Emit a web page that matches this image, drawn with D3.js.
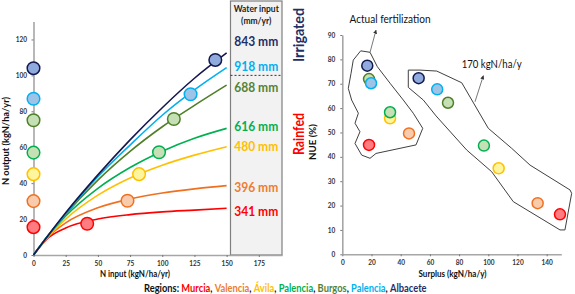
<!DOCTYPE html>
<html><head><meta charset="utf-8">
<script src="https://cdn.jsdelivr.net/npm/d3@7"></script>
<style>body{margin:0;background:#fff} svg{display:block;font-family:Lato,"DejaVu Sans",sans-serif}</style>
</head><body><svg id="c" width="575" height="294"></svg>
<script>
// ---------- data ----------
const regions = ["Murcia","Valencia","Ávila","Palencia","Burgos","Palencia","Albacete"];
const waterInput = ["341 mm","396 mm","480 mm","616 mm","688 mm","918 mm","843 mm"];
const curveX = [0,10,25,50,75,100,125,150];
const curveMurcia   = [0,8.6,15,20,22.5,24,25,26];
const curveValencia = [0,9.1,17.9,26.3,31.2,34.5,36.8,38.6];
const curveAvila    = [0,9.1,20,33.3,42.9,50,55.6,60.3];
const curvePalencia = [0,9.6,21.7,37.1,48.7,57.8,65,70.5];
const curveBurgos   = [0,9.6,22.7,41.7,57.7,71.4,83.3,94.6];
const curvePalenciaIrr = [0,9.6,23,43.6,61.2,77.8,91.9,104.3];
const curveAlbacete = [0,9.6,23.5,44.6,64.1,82,98.4,112.5];
const outputAtZero  = [15.5,30,45,57,75,87,104];
const inputAtPoint  = [41.7,73,82,97.5,109,122,141.2];
const outputAtPoint = [17.4,30.2,45,57.2,75.7,89.5,108.6];
const surplusActual = [18.3,45.7,32.7,32.7,18.3,19.7,17.1];
const nueActual     = [44.9,49.6,55.8,58.3,71.9,70.2,77.4];
const surplus170    = [149.1,133.8,107.1,97,72.4,65,52.3];
const nue170        = [16.4,21,35.3,44.6,62.2,67.7,72.3];
const xTicksLeft  = [0,25,50,75,100,125,150,175];
const yTicksLeft  = [0,20,40,60,80,100,120];
const xTicksRight = [0,20,40,60,80,100,120,140];
const yTicksRight = [0,10,20,30,40,50,60,70,80,90];
const polyActual = [[12.6,83.5],[19.0,82.9],[24.0,77.0],[32.7,70.2],[41.8,63.3],[48.6,57.9],[55.1,51.7],[50.5,44.9],[23.1,41.4],[19.0,39.4],[13.3,40.7],[8.7,45.5],[12.1,50.3],[8.7,53.8],[11.0,57.9],[6.4,63.3],[4.1,68.1],[6.0,74.3],[7.5,79.7]];
const poly170 = [[45.2,75.6],[53.2,75.6],[64.7,75.2],[81.8,70.4],[100,51.7],[116,43.5],[128.6,36.6],[156,26.4],[157.1,25],[152.5,10],[149.1,10],[117.1,21.6],[102.3,33.9],[85.2,42.8],[64.2,56.8],[55.5,63.3],[45.2,68.5]];
const curves = [curveMurcia,curveValencia,curveAvila,curvePalencia,curveBurgos,curvePalenciaIrr,curveAlbacete];

// ---------- styles ----------
const lineColors = ["#ff0000","#f07020","#ffc000","#00b050","#4f7f27","#00b0f0","#14184f"];
const fillColors = ["#ff7c80","#f8cbad","#fff59d","#c5e0b4","#c5e0b4","#9dc3e6","#8faadc"];
const textColors = ["#ff0000","#ed7d31","#ffc000","#00b050","#548235","#00b0f0","#1f2f66"];

const svg = d3.select("#c");
const axisCol = "#a6a6a6";

// ---------- left chart ----------
const xL = d3.scaleLinear().domain([0,193]).range([33.5,282]);
const yL = d3.scaleLinear().domain([0,130]).range([255,21.5]);

// box
svg.append("rect").attr("x",xL(153)).attr("y",1).attr("width",xL(193)-xL(153)).attr("height",yL(0)-1)
  .attr("fill","#f2f2f2").attr("stroke","#7f7f7f").attr("stroke-width",1.2);
svg.append("line").attr("x1",xL(153)).attr("x2",xL(193)).attr("y1",yL(100)).attr("y2",yL(100))
  .attr("stroke","#333").attr("stroke-dasharray","2,2").attr("stroke-width",1);
const boxC = (xL(153)+xL(193))/2;
svg.append("text").attr("x",boxC).attr("y",12).attr("text-anchor","middle").attr("font-size",8.5).attr("font-weight","bold").attr("fill","#222").text("Water input");
svg.append("text").attr("x",boxC).attr("y",24).attr("text-anchor","middle").attr("font-size",8.5).attr("font-weight","bold").attr("fill","#222").text("(mm/yr)");
const nudge = [2.5,1,-0.5,-2,2,-1.5,-12];
waterInput.forEach((w,i)=>{
  const c = curves[i];
  svg.append("text").attr("x",boxC).attr("y",yL(c[c.length-1])+nudge[i]).attr("dy","0.36em")
    .attr("text-anchor","middle").attr("font-size",14).attr("font-weight","bold")
    .attr("fill",textColors[i]).attr("textLength",44).attr("lengthAdjust","spacingAndGlyphs").text(w);
});

// axes
const gxL = svg.append("g").attr("transform",`translate(0,${yL(0)})`)
  .call(d3.axisBottom(xL).tickValues(xTicksLeft).tickSize(2).tickSizeOuter(0).tickPadding(4));
const gyL = svg.append("g").attr("transform",`translate(${xL(0)},0)`)
  .call(d3.axisLeft(yL).tickValues(yTicksLeft).tickSize(2).tickSizeOuter(0).tickPadding(4.5));

// curves
const lineL = d3.line().x(d=>xL(d[0])).y(d=>yL(d[1])).curve(d3.curveMonotoneX);
curves.forEach((c,i)=>{
  svg.append("path").attr("d",lineL(curveX.map((x,j)=>[x,c[j]])))
    .attr("fill","none").attr("stroke",lineColors[i]).attr("stroke-width",1.6);
});
outputAtZero.forEach((v,i)=>{
  svg.append("circle").attr("cx",xL(0)).attr("cy",yL(v)).attr("r",6.3)
    .attr("fill",fillColors[i]).attr("stroke",lineColors[i]).attr("stroke-width",1.5);
});
inputAtPoint.forEach((v,i)=>{
  svg.append("circle").attr("cx",xL(v)).attr("cy",yL(outputAtPoint[i])).attr("r",6.3)
    .attr("fill",fillColors[i]).attr("stroke",lineColors[i]).attr("stroke-width",1.5);
});

svg.append("text").attr("transform",`translate(9,141) rotate(-90)`).attr("text-anchor","middle")
  .attr("font-size",10).attr("font-weight","bold").attr("fill","#111")
  .attr("textLength",88).attr("lengthAdjust","spacingAndGlyphs").text("N output (kgN/ha/yr)");
svg.append("text").attr("x",135).attr("y",277).attr("text-anchor","middle")
  .attr("font-size",9.5).attr("font-weight","bold").attr("fill","#111")
  .attr("textLength",70).attr("lengthAdjust","spacingAndGlyphs").text("N input (kgN/ha/yr)");

// Irrigated / Rainfed
svg.append("text").attr("transform",`translate(304,35) rotate(-90)`).attr("text-anchor","middle")
  .attr("font-size",16).attr("font-weight","bold").attr("fill","#1f2f66")
  .attr("textLength",54).attr("lengthAdjust","spacingAndGlyphs").text("Irrigated");
svg.append("text").attr("transform",`translate(304,134) rotate(-90)`).attr("text-anchor","middle")
  .attr("font-size",16).attr("font-weight","bold").attr("fill","#ff0000")
  .attr("textLength",42).attr("lengthAdjust","spacingAndGlyphs").text("Rainfed");

// ---------- right chart ----------
const xR = d3.scaleLinear().domain([0,150]).range([342.3,561.3]);
const yR = d3.scaleLinear().domain([0,90]).range([254.3,35]);
const gxR = svg.append("g").attr("transform",`translate(0,${yR(0)})`)
  .call(d3.axisBottom(xR).tickValues(xTicksRight).tickSize(2).tickSizeOuter(0).tickPadding(4));
const gyR = svg.append("g").attr("transform",`translate(${xR(0)},0)`)
  .call(d3.axisLeft(yR).tickValues(yTicksRight).tickSize(2).tickSizeOuter(0).tickPadding(5));

[gxL,gyL,gxR,gyR].forEach(g=>{
  g.select(".domain").attr("stroke",axisCol).attr("stroke-width",1.6);
  g.selectAll(".tick line").attr("stroke","#777");
  g.selectAll(".tick text").attr("font-size",6.5).attr("font-weight","bold").attr("fill","#333").attr("font-family","Lato, sans-serif");
});

const lineP = d3.line().x(d=>xR(d[0])).y(d=>yR(d[1])).curve(d3.curveLinearClosed);
[polyActual,poly170].forEach(p=>{
  svg.append("path").attr("d",lineP(p)).attr("fill","none").attr("stroke","#404040").attr("stroke-width",1);
});

// arrows
svg.append("defs").append("marker").attr("id","ah").attr("viewBox","0 0 10 10").attr("refX",9).attr("refY",5)
  .attr("markerWidth",5).attr("markerHeight",5).attr("orient","auto")
  .append("path").attr("d","M0,0L10,5L0,10z").attr("fill","#333");
svg.append("line").attr("x1",xR(19.0)).attr("y1",yR(82.9)).attr("x2",xR(23.1)).attr("y2",yR(92))
  .attr("stroke","#555").attr("stroke-width",0.8).attr("marker-end","url(#ah)");
svg.append("line").attr("x1",xR(90.9)).attr("y1",yR(62.6)).attr("x2",xR(96.6)).attr("y2",yR(73.3))
  .attr("stroke","#555").attr("stroke-width",0.8).attr("marker-end","url(#ah)");
svg.append("text").attr("x",390).attr("y",23).attr("text-anchor","middle").attr("font-size",10.5)
  .attr("fill","#111").attr("textLength",81).attr("lengthAdjust","spacingAndGlyphs").text("Actual fertilization");
svg.append("text").attr("x",491.7).attr("y",68).attr("text-anchor","middle").attr("font-size",10.5)
  .attr("fill","#111").attr("textLength",60).attr("lengthAdjust","spacingAndGlyphs").text("170 kgN/ha/y");

surplusActual.forEach((v,i)=>{
  svg.append("circle").attr("cx",xR(v)).attr("cy",yR(nueActual[i])).attr("r",5.5)
    .attr("fill",fillColors[i]).attr("stroke",lineColors[i]).attr("stroke-width",1.5);
});
surplus170.forEach((v,i)=>{
  svg.append("circle").attr("cx",xR(v)).attr("cy",yR(nue170[i])).attr("r",5.5)
    .attr("fill",fillColors[i]).attr("stroke",lineColors[i]).attr("stroke-width",1.5);
});

svg.append("text").attr("transform",`translate(316,142) rotate(-90)`).attr("text-anchor","middle")
  .attr("font-size",9.5).attr("font-weight","bold").attr("fill","#111")
  .attr("textLength",36).attr("lengthAdjust","spacingAndGlyphs").text("NUE (%)");
svg.append("text").attr("x",452.5).attr("y",277).attr("text-anchor","middle")
  .attr("font-size",9.5).attr("font-weight","bold").attr("fill","#111")
  .attr("textLength",68).attr("lengthAdjust","spacingAndGlyphs").text("Surplus (kgN/ha/y)");

// legend: full-height glyphs, horizontally condensed to the reference width
const legG = svg.append("g").attr("transform","translate(144,291.5)");
const leg = legG.append("text").attr("x",0).attr("y",0).attr("font-size",10.5).attr("font-weight","bold");
leg.append("tspan").attr("fill","#111").text("Regions: ");
regions.forEach((r,i)=>{
  leg.append("tspan").attr("fill",textColors[i]).text(r);
  if(i<regions.length-1) leg.append("tspan").attr("fill","#111").text(", ");
});
const w0 = leg.node().getComputedTextLength();
if (w0 > 0) legG.attr("transform",`translate(144,291.5) scale(${Math.min(1,282/w0)},1)`);
</script></body></html>
